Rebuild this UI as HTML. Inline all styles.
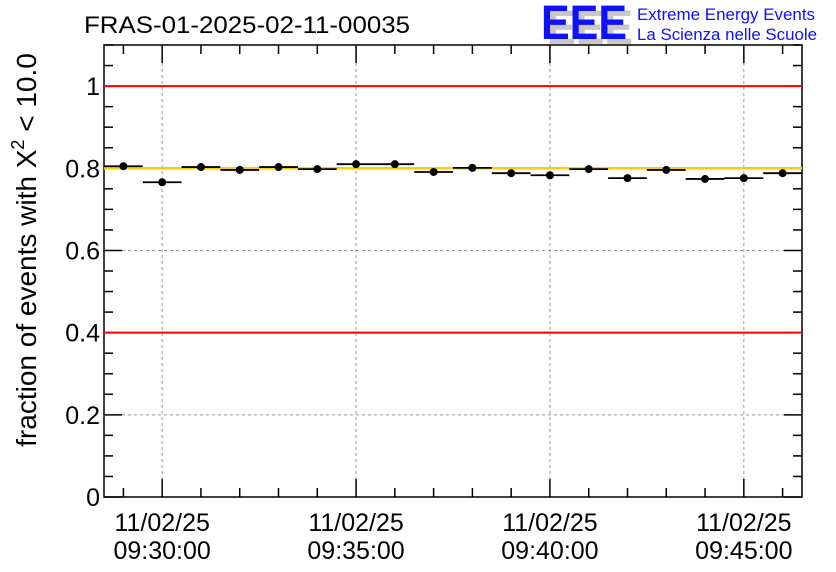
<!DOCTYPE html>
<html><head><meta charset="utf-8"><style>
body{margin:0;background:#fff;}
svg{display:block;font-family:"Liberation Sans",sans-serif;}
</style></head><body>
<svg id="chart" width="836" height="572" viewBox="0 0 836 572">
<text x="84" y="33" font-size="24" textLength="326" lengthAdjust="spacingAndGlyphs" fill="#000">FRAS-01-2025-02-11-00035</text>
<g>
<text x="547" y="44" font-size="48" font-weight="bold" fill="#c8c8c8" textLength="86" lengthAdjust="spacingAndGlyphs">EEE</text>
<text x="541" y="39" font-size="48" font-weight="bold" fill="#1010ff" textLength="86" lengthAdjust="spacingAndGlyphs">EEE</text>
<text x="637" y="20" font-size="17" fill="#1010ff" textLength="178" lengthAdjust="spacingAndGlyphs">Extreme Energy Events</text>
<text x="637" y="40" font-size="17" fill="#1010ff" textLength="180" lengthAdjust="spacingAndGlyphs">La Scienza nelle Scuole</text>
</g>
<text transform="translate(36,250) rotate(-90)" text-anchor="middle" font-size="28" fill="#000">fraction of events with Χ<tspan dy="-12" font-size="18">2</tspan><tspan dy="12"> &lt; 10.0</tspan></text>
<g id="grid"></g><g id="axes"></g><g id="marks"></g>
</svg>
<script>
const minutes = [-1,0,1,2,3,4,5,6,7,8,9,10,11,12,13,14,15,16];
const values = [0.805,0.766,0.803,0.796,0.803,0.798,0.810,0.810,0.791,0.801,0.788,0.783,0.798,0.776,0.796,0.774,0.776,0.788];
const yTicks = [0,0.2,0.4,0.6,0.8,1];
const yTickLabels = ["0","0.2","0.4","0.6","0.8","1"];
const xTicks = [0,5,10,15];
const xTickLabels = [["11/02/25","09:30:00"],["11/02/25","09:35:00"],["11/02/25","09:40:00"],["11/02/25","09:45:00"]];
const refLines = [1.0,0.4];
const meanLine = 0.8;

const L=104,R=802,T=45,B=497;
const xMin=-1.5,xMax=16.5,yMin=0,yMax=1.1;
const xs=m=>L+(m-xMin)/(xMax-xMin)*(R-L);
const ys=v=>B-(v-yMin)/(yMax-yMin)*(B-T);
const NS="http://www.w3.org/2000/svg";
function mk(parent,tag,attrs){const e=document.createElementNS(NS,tag);for(const k in attrs)e.setAttribute(k,attrs[k]);document.getElementById(parent).appendChild(e);return e;}

xTicks.forEach(t=>{const g=mk('grid','line',{x1:xs(t),x2:xs(t),y1:T,y2:B,stroke:'#999','stroke-dasharray':'3,3','stroke-width':1});

});
yTicks.slice(1).forEach(t=>{const g=mk('grid','line',{x1:L,x2:R,y1:ys(t),y2:ys(t),stroke:'#999','stroke-dasharray':'3,3','stroke-width':1});

});

const fr=mk('axes','rect',{x:L,y:T,width:R-L,height:B-T,fill:'none',stroke:'#000','stroke-width':1.5});


for(let v=0;v<=1.1001;v+=0.05){const major=Math.abs(v*5-Math.round(v*5))<1e-6;const len=major?18:9;
mk('axes','line',{x1:L,x2:L+len,y1:ys(v),y2:ys(v),stroke:'#000','stroke-width':1.5});
mk('axes','line',{x1:R,x2:R-len,y1:ys(v),y2:ys(v),stroke:'#000','stroke-width':1.5});}
for(let m=-1;m<=16;m++){const major=m%5===0;const len=major?18:9;
mk('axes','line',{x1:xs(m),x2:xs(m),y1:B,y2:B-len,stroke:'#000','stroke-width':1.5});
mk('axes','line',{x1:xs(m),x2:xs(m),y1:T,y2:T+len,stroke:'#000','stroke-width':1.5});}
yTicks.forEach((t,i)=>{const tx=mk('axes','text',{x:L-4,y:ys(t)+9,'text-anchor':'end','font-size':25,fill:'#000'});tx.textContent=yTickLabels[i];

});
xTicks.forEach((t,i)=>{const a=mk('axes','text',{x:xs(t),y:531,'text-anchor':'middle','font-size':25,fill:'#000'});a.textContent=xTickLabels[i][0];


const b=mk('axes','text',{x:xs(t),y:559,'text-anchor':'middle','font-size':25,fill:'#000'});b.textContent=xTickLabels[i][1];

});

refLines.forEach(v=>{const l=mk('marks','line',{x1:L,x2:R,y1:ys(v),y2:ys(v),stroke:'#ff0000','stroke-width':2});

});
const ml=mk('marks','line',{x1:L,x2:R,y1:ys(meanLine),y2:ys(meanLine),stroke:'#ffcc00','stroke-width':2.5});


minutes.forEach((m,i)=>{const y=ys(values[i]);
const e=mk('marks','line',{x1:xs(m-0.5),x2:xs(m+0.5),y1:y,y2:y,stroke:'#000','stroke-width':1.8});


const c=mk('marks','circle',{cx:xs(m),cy:y,r:4,fill:'#000'});

});
</script>
</body></html>
